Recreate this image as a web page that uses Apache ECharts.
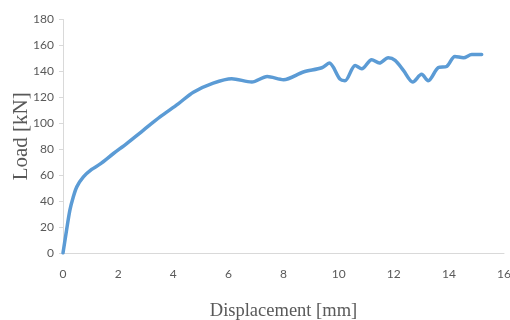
<!DOCTYPE html>
<html><head><meta charset="utf-8">
<script src="https://cdn.jsdelivr.net/npm/echarts@6/dist/echarts.min.js"></script>
<style>html,body{margin:0;padding:0;background:#fff}#c{width:510px;height:320px}</style>
</head><body><div id="c"></div>
<script>
const displacement = [0, 0.13, 0.25, 0.37, 0.5, 0.74, 1.04, 1.34, 1.83, 2.31, 2.91, 3.52, 4.18, 4.73, 5.45, 6.12, 6.85, 7.41, 8.0, 8.72, 9.39, 9.66, 10.05, 10.23, 10.6, 10.84, 11.2, 11.48, 11.8, 12.05, 12.35, 12.69, 13.01, 13.25, 13.62, 13.92, 14.22, 14.53, 14.83, 15.19];
const load = [0, 17.7, 33, 43, 51, 58.7, 64.4, 68.5, 76.7, 84.4, 94.6, 104.9, 115, 124, 131, 134.4, 131.8, 136, 133.6, 139.5, 142.8, 146.4, 134, 132.8, 144.6, 142, 149, 146.4, 150.5, 148.5, 140.8, 131.8, 137.7, 132.8, 143, 143.8, 151.5, 150.5, 153, 153];
const xTicks = [0, 2, 4, 6, 8, 10, 12, 14, 16];
const yTicks = [0, 20, 40, 60, 80, 100, 120, 140, 160, 180];

const chart = echarts.init(document.getElementById('c'), null, {renderer: 'canvas'});
const labelStyle = {color: '#595959', fontSize: 12, fontFamily: 'Lato, "Open Sans", sans-serif'};
chart.setOption({
  animation: false,
  grid: {left: 63, right: 6, top: 19.5, bottom: 67, containLabel: false, outerBoundsMode: 'none'},
  xAxis: {
    type: 'value', min: xTicks[0], max: xTicks[xTicks.length - 1], interval: 2,
    name: 'Displacement [mm]', nameLocation: 'middle', nameGap: 49, nameMoveOverlap: false,
    nameTextStyle: {fontFamily: '"Liberation Serif", serif', fontSize: 18.5, color: '#595959'},
    axisLine: {show: true, lineStyle: {color: '#d9d9d9', width: 1}},
    axisTick: {show: false},
    splitLine: {show: false},
    axisLabel: Object.assign({margin: 15}, labelStyle)
  },
  yAxis: {
    type: 'value', min: yTicks[0], max: yTicks[yTicks.length - 1], interval: 20,
    name: 'Load [kN]', nameLocation: 'middle', nameGap: 31, nameMoveOverlap: false,
    nameTextStyle: {fontFamily: '"Liberation Serif", serif', fontSize: 21, color: '#595959'},
    axisLine: {show: true, lineStyle: {color: '#d9d9d9', width: 1}},
    axisTick: {show: true, length: 4, lineStyle: {color: '#d9d9d9'}},
    splitLine: {show: false},
    axisLabel: Object.assign({margin: 9}, labelStyle)
  },
  series: [{
    type: 'line',
    data: displacement.map((d, i) => [d, load[i]]),
    smooth: 0.3,
    showSymbol: false,
    lineStyle: {color: '#5b9bd5', width: 3.5, cap: 'round', join: 'round'}
  }]
});
</script></body></html>
